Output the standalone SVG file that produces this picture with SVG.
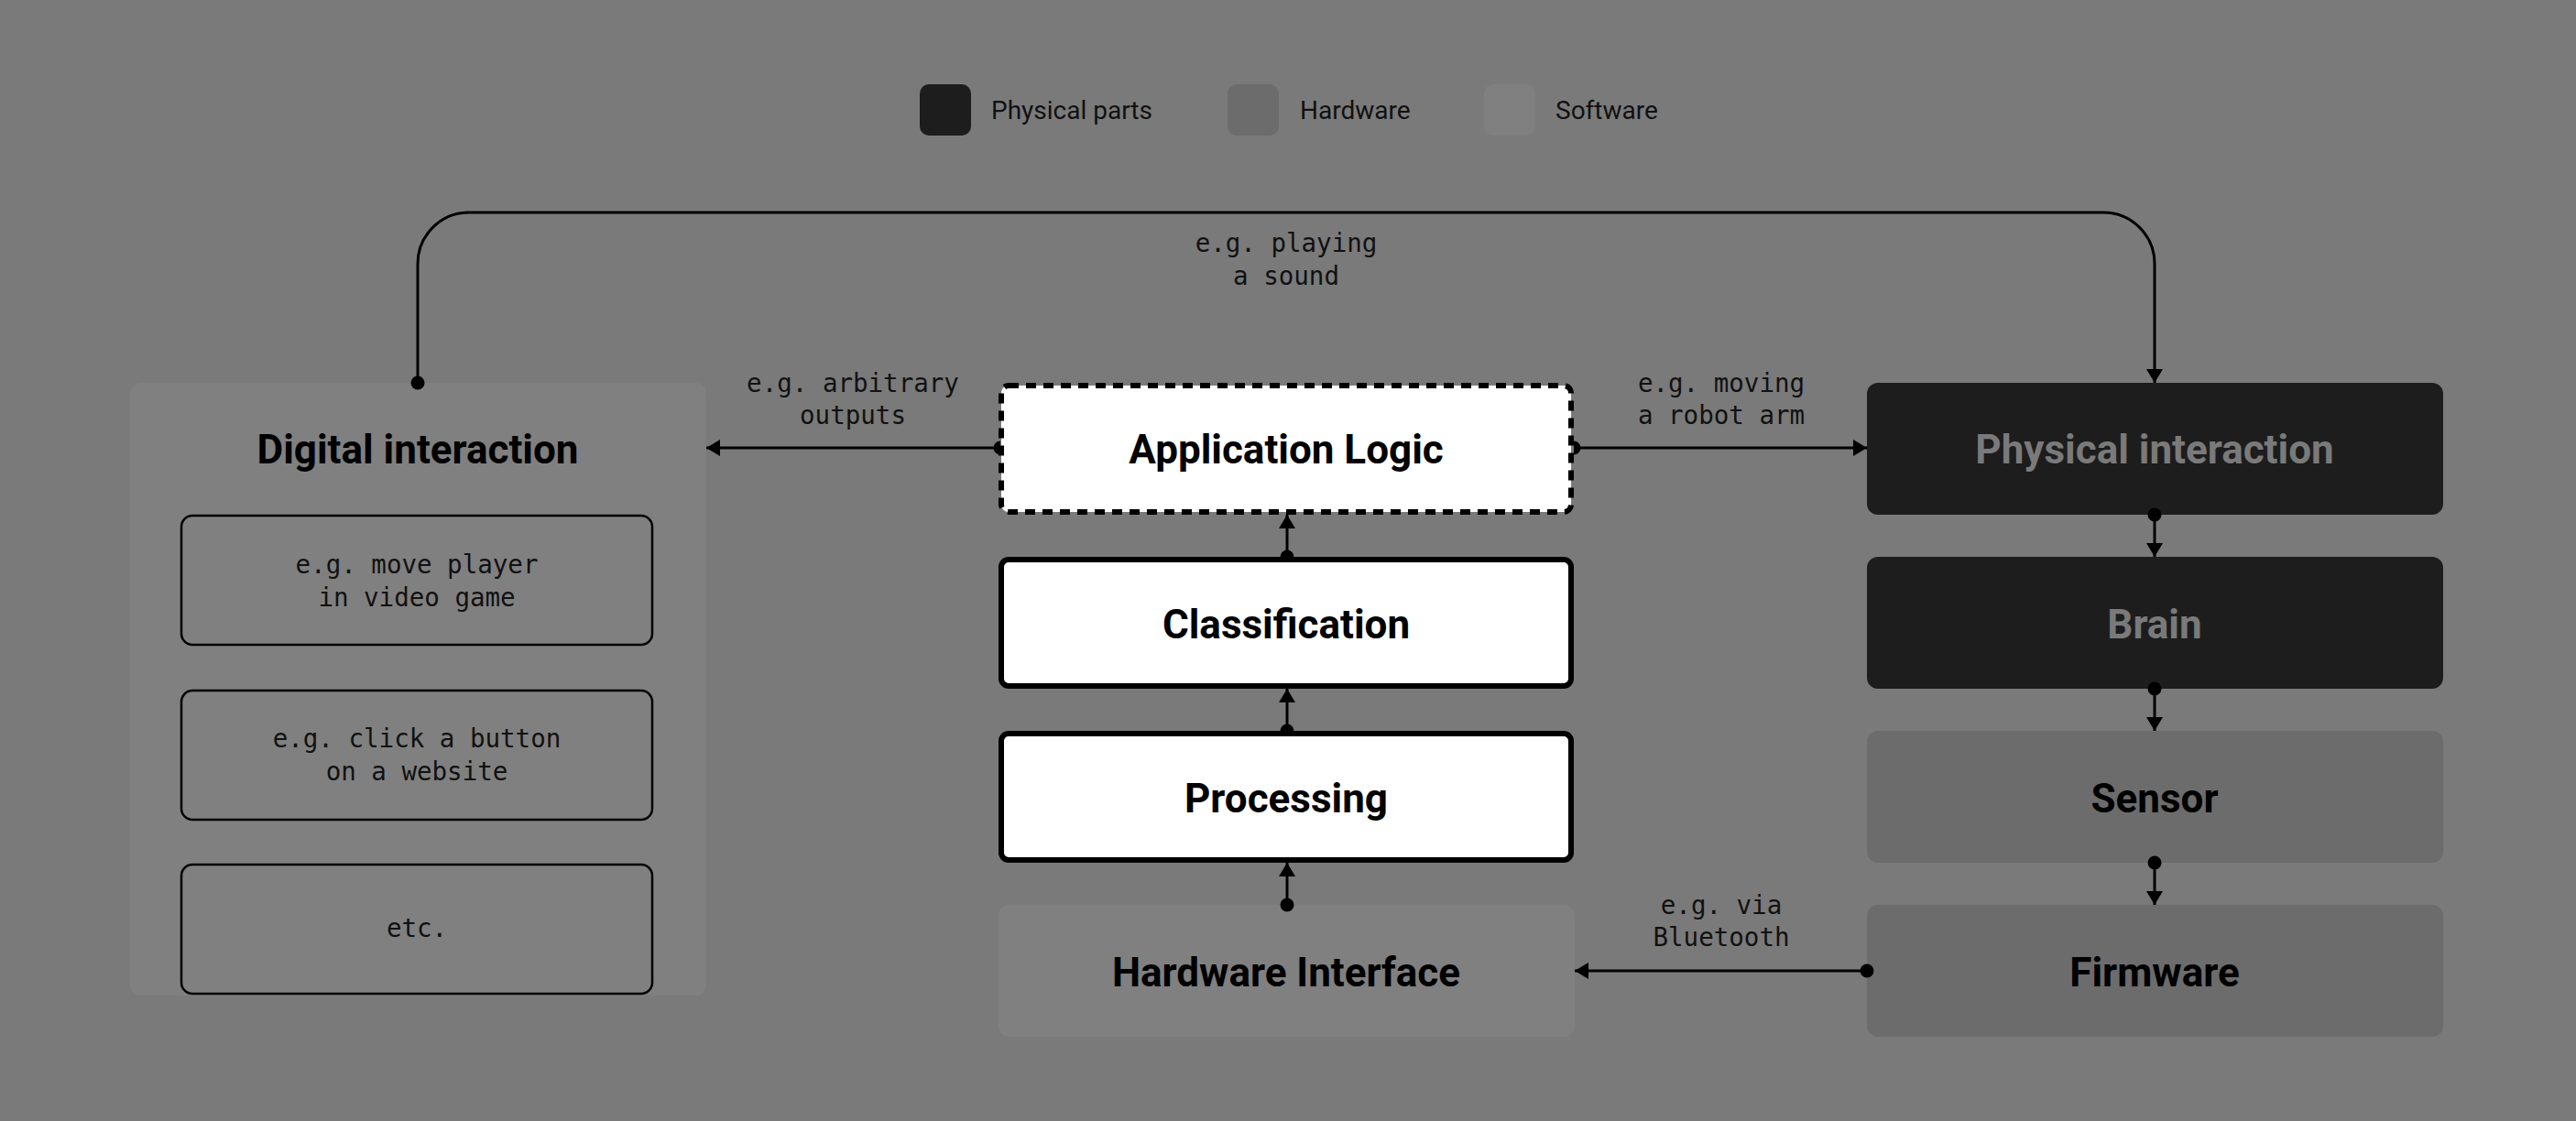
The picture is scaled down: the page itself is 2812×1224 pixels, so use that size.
<svg xmlns="http://www.w3.org/2000/svg" width="2812" height="1224" viewBox="0 0 2812 1224">
<style>
.t{font-family:Roboto,"Liberation Sans",sans-serif;font-weight:700;font-size:44px;text-anchor:middle;fill:#000}
.tg{fill:#7a7a7a}
.lg{font-family:Roboto,"Liberation Sans",sans-serif;font-size:28px;fill:#111}
.m{font-family:"DejaVu Sans Mono","Liberation Mono",monospace;font-size:27.5px;text-anchor:middle;fill:#111}
.phys{fill:#1d1d1d}
.hw{fill:#6c6c6c}
.sw{fill:#808080}
.wb{fill:#fff;stroke:#000;stroke-width:6}
.ex{fill:none;stroke:#000;stroke-width:2.5}
.c{fill:none;stroke:#000;stroke-width:3}
.d{fill:#000}
</style>
<defs>
<marker id="ah" markerUnits="userSpaceOnUse" markerWidth="15" markerHeight="18" refX="15" refY="9" orient="auto">
<path d="M0,0 L15,9 L0,18 z" fill="#000"/>
</marker>
</defs>
<rect width="2812" height="1224" fill="#7a7a7a"/>

<g id="legend">
<rect x="1004" y="92" width="56" height="56" rx="10" class="phys"/>
<text x="1082" y="130" class="lg">Physical parts</text>
<rect x="1340" y="92" width="56" height="56" rx="10" class="hw"/>
<text x="1419" y="130" class="lg">Hardware</text>
<rect x="1620" y="92" width="56" height="56" rx="10" class="sw"/>
<text x="1698" y="130" class="lg">Software</text>
</g>

<g id="digital-interaction">
<rect x="142" y="418" width="629" height="669" rx="12" class="sw"/>
<text x="456" y="506" class="t">Digital interaction</text>
</g>
<g id="example-move-player">
<rect x="198" y="563" width="514" height="141" rx="12" class="ex"/>
<text x="455" y="626" class="m">e.g. move player</text>
<text x="455" y="662" class="m">in video game</text>
</g>
<g id="example-click-button">
<rect x="198" y="754" width="514" height="141" rx="12" class="ex"/>
<text x="455" y="816" class="m">e.g. click a button</text>
<text x="455" y="852" class="m">on a website</text>
</g>
<g id="example-etc">
<rect x="198" y="944" width="514" height="141" rx="12" class="ex"/>
<text x="455" y="1023" class="m">etc.</text>
</g>

<g id="application-logic">
<rect x="1093" y="421" width="622" height="138" rx="8" class="wb" stroke-dasharray="11 8"/>
<text x="1404" y="506" class="t">Application Logic</text>
</g>
<g id="classification">
<rect x="1093" y="611" width="622" height="138" rx="8" class="wb"/>
<text x="1404" y="697" class="t">Classification</text>
</g>
<g id="processing">
<rect x="1093" y="801" width="622" height="138" rx="8" class="wb"/>
<text x="1404" y="887" class="t">Processing</text>
</g>
<g id="hardware-interface">
<rect x="1090" y="988" width="629" height="144" rx="12" class="sw"/>
<text x="1404" y="1077" class="t">Hardware Interface</text>
</g>

<g id="physical-interaction">
<rect x="2038" y="418" width="629" height="144" rx="12" class="phys"/>
<text x="2352" y="506" class="t tg">Physical interaction</text>
</g>
<g id="brain">
<rect x="2038" y="608" width="629" height="144" rx="12" class="phys"/>
<text x="2352" y="697" class="t tg">Brain</text>
</g>
<g id="sensor">
<rect x="2038" y="798" width="629" height="144" rx="12" class="hw"/>
<text x="2352" y="887" class="t">Sensor</text>
</g>
<g id="firmware">
<rect x="2038" y="988" width="629" height="144" rx="12" class="hw"/>
<text x="2352" y="1077" class="t">Firmware</text>
</g>

<g id="connectors">
<path class="c" d="M456,418 V288 A56,56 0 0 1 512,232 H2296 A56,56 0 0 1 2352,288 V418" marker-end="url(#ah)"/>
<circle cx="456" cy="418" r="7.5" class="d"/>
<text x="1404" y="275" class="m">e.g. playing</text>
<text x="1404" y="311" class="m">a sound</text>

<path class="c" d="M1092,489 H771" marker-end="url(#ah)"/>
<path class="d" d="M1092,481.5 A7.5,7.5 0 0 0 1092,496.5 z"/>
<text x="931" y="428" class="m">e.g. arbitrary</text>
<text x="931" y="463" class="m">outputs</text>

<path class="c" d="M1718,489 H2038" marker-end="url(#ah)"/>
<path class="d" d="M1718,481.5 A7.5,7.5 0 0 1 1718,496.5 z"/>
<text x="1879" y="428" class="m">e.g. moving</text>
<text x="1879" y="463" class="m">a robot arm</text>

<path class="c" d="M1405,608 V562" marker-end="url(#ah)"/>
<path class="d" d="M1397.5,608 A7.5,7.5 0 0 1 1412.5,608 z"/>
<path class="c" d="M1405,798 V752" marker-end="url(#ah)"/>
<path class="d" d="M1397.5,798 A7.5,7.5 0 0 1 1412.5,798 z"/>
<path class="c" d="M1405,988 V942" marker-end="url(#ah)"/>
<circle cx="1405" cy="988" r="7.5" class="d"/>

<path class="c" d="M2352,562 V608" marker-end="url(#ah)"/>
<circle cx="2352" cy="562" r="7.5" class="d"/>
<path class="c" d="M2352,752 V798" marker-end="url(#ah)"/>
<circle cx="2352" cy="752" r="7.5" class="d"/>
<path class="c" d="M2352,942 V988" marker-end="url(#ah)"/>
<circle cx="2352" cy="942" r="7.5" class="d"/>

<path class="c" d="M2038,1060 H1719" marker-end="url(#ah)"/>
<circle cx="2038" cy="1060" r="7.5" class="d"/>
<text x="1879" y="998" class="m">e.g. via</text>
<text x="1879" y="1033" class="m">Bluetooth</text>
</g>
</svg>
